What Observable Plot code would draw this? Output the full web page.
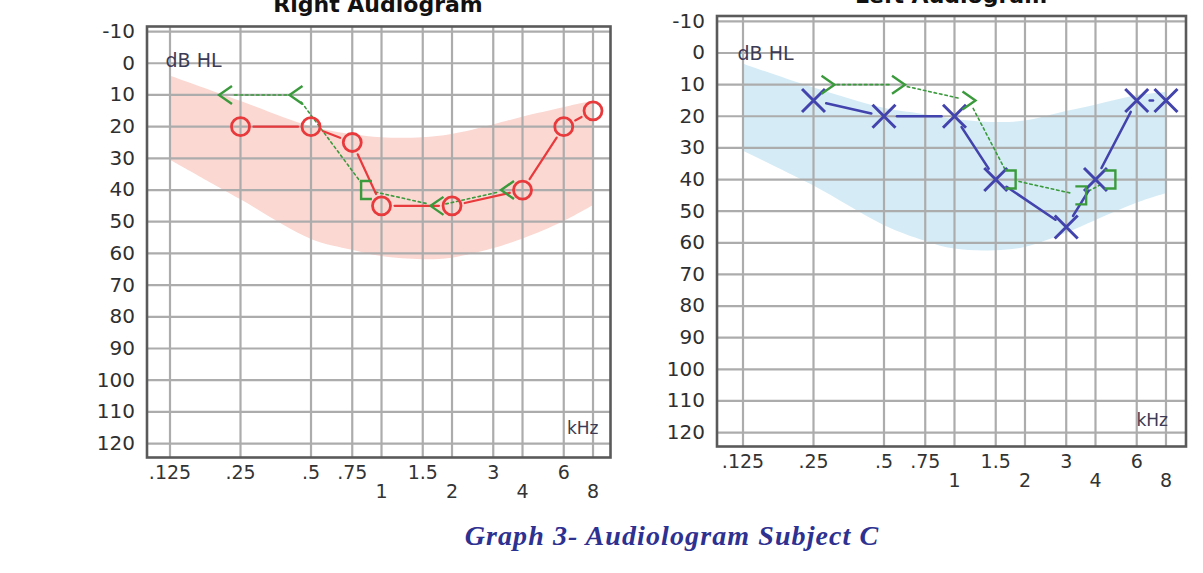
<!DOCTYPE html>
<html>
<head>
<meta charset="utf-8">
<script src="https://cdn.jsdelivr.net/npm/d3@7"></script>
<script src="https://cdn.jsdelivr.net/npm/@observablehq/plot@0.6"></script>
<style>
  html, body { margin: 0; padding: 0; background: #fff; }
  #page { position: relative; width: 1203px; height: 573px; overflow: hidden; background: #fff; }
  .plotbox { position: absolute; top: 0; }
  .title { position: absolute; font-family: "DejaVu Sans", sans-serif; font-weight: bold; font-size: 22px; line-height: 22px; color: #111; white-space: nowrap; transform: translateX(-50%); }
  #caption { position: absolute; left: 672px; top: 522px; transform: translateX(-50%); font-family: "Liberation Serif", "Times New Roman", serif; font-weight: bold; font-style: italic; font-size: 28px; line-height: 28px; letter-spacing: 1.1px; color: #2e3190; white-space: nowrap; }
</style>
</head>
<body>
<div id="page">
  <div class="title" style="left:378px; top:-6px;">Right Audiogram</div>
  <div class="title" style="left:951px; top:-15px;">Left Audiogram</div>
  <div id="leftBox" class="plotbox" style="left:0px;"></div>
  <div id="rightBox" class="plotbox" style="left:620px;"></div>
  <div id="caption">Graph 3- Audiologram Subject C</div>
</div>
<script>
// ---- shared axes ----
const freqs = [0.125, 0.25, 0.5, 0.75, 1, 1.5, 2, 3, 4, 6, 8];
const freqLabels = [".125", ".25", ".5", ".75", "1", "1.5", "2", "3", "4", "6", "8"];
const freqLabelRow = [1, 1, 1, 1, 2, 1, 2, 1, 2, 1, 2];
const dbTicks = [-10, 0, 10, 20, 30, 40, 50, 60, 70, 80, 90, 100, 110, 120];

// ---- Right ear (left chart) ----
const rightBandTop = [4, 12, 20, 22.5, 23.5, 23.5, 22.5, 19.5, 17, 14, 12];
const rightBandBottom = [30.5, 43, 55.5, 59, 61, 62, 61.5, 58.5, 55.5, 50, 45];
const rightAirFreq = [0.25, 0.5, 0.75, 1, 2, 4, 6, 8];
const rightAirDb = [20, 20, 25, 45, 45, 40, 20, 15];
const rightBoneFreq = [0.25, 0.5, 1, 2, 4];
const rightBoneDb = [10, 10, 40, 45, 40];
const rightBoneSym = ["<", "<", "[", "<", "<"];

// ---- Left ear (right chart) ----
const leftBandTop = [3.5, 11, 17.5, 19.5, 21, 22, 21.5, 18.5, 16.5, 13.5, 12.5];
const leftBandBottom = [31, 42, 54.5, 59.5, 62, 62.5, 61.5, 57, 53, 47.5, 44.5];
const leftAirFreq = [0.25, 0.5, 1, 1.5, 3, 4, 6, 8];
const leftAirDb = [15, 20, 20, 40, 55, 40, 15, 15];
const leftBoneFreq = [0.25, 0.5, 1, 1.5, 3, 4];
const leftBoneDb = [10, 10, 15, 40, 45, 40];
const leftBoneSym = [">", ">", ">", "]", "]", "]"];

// custom audiogram bone-conduction symbols
function boneSymbol(kind) {
  return {
    draw(ctx, size) {
      const r = Math.sqrt(size / Math.PI);
      const h = r;
      const w = (kind === "<" || kind === ">") ? r * 0.72 : r * 0.6;
      if (kind === "<") { ctx.moveTo(w, -h); ctx.lineTo(-w, 0); ctx.lineTo(w, h); }
      else if (kind === ">") { ctx.moveTo(-w, -h); ctx.lineTo(w, 0); ctx.lineTo(-w, h); }
      else if (kind === "[") { ctx.moveTo(w, -h); ctx.lineTo(-w, -h); ctx.lineTo(-w, h); ctx.lineTo(w, h); }
      else { ctx.moveTo(-w, -h); ctx.lineTo(w, -h); ctx.lineTo(w, h); ctx.lineTo(-w, h); }
    }
  };
}

function audiogram(cfg) {
  const band = freqs.map((f, i) => ({f, hi: cfg.bandTop[i], lo: cfg.bandBottom[i]}));
  const xlab = freqs.map((f, i) => ({f, label: freqLabels[i], row: freqLabelRow[i]}));
  const air = cfg.airFreq.map((f, i) => ({f, db: cfg.airDb[i]}));
  const bone = cfg.boneFreq.map((f, i) => ({f, db: cfg.boneDb[i], sym: cfg.boneSym[i]}));
  const airPairs = d3.pairs(air);
  const bonePairs = d3.pairs(bone);
  const green = "#3a9a3c";
  const symKinds = Array.from(new Set(cfg.boneSym));
  return Plot.plot({
    width: cfg.width,
    height: cfg.height,
    marginLeft: cfg.ml, marginRight: cfg.mr, marginTop: cfg.mt, marginBottom: cfg.mb,
    style: {fontFamily: "DejaVu Sans, sans-serif", fontSize: "20px", background: "transparent", overflow: "visible"},
    x: {type: "log", domain: cfg.xDomain, axis: null},
    y: {domain: cfg.yDomain, reverse: true},
    marks: [
      Plot.areaY(band, {x: "f", y1: "hi", y2: "lo", fill: cfg.bandColor, curve: "catmull-rom"}),
      Plot.ruleX(freqs, {stroke: "#acacac", strokeWidth: 2.2}),
      Plot.ruleY(dbTicks, {stroke: "#acacac", strokeWidth: 2.2}),
      Plot.frame({stroke: "#5a5a5a", strokeWidth: 2.6}),
      Plot.axisY(dbTicks, {tickSize: 0, tickPadding: 12, fontSize: 20, fill: "#2f2f2f", label: null, tickFormat: d => String(d)}),
      Plot.text(xlab.filter(d => d.row === 1), {x: "f", text: "label", frameAnchor: "bottom", dy: 21.5, fontSize: 19, fill: "#333"}),
      Plot.text(xlab.filter(d => d.row === 2), {x: "f", text: "label", frameAnchor: "bottom", dy: 40.5, fontSize: 19, fill: "#333"}),
      Plot.text(["dB HL"], {text: d => d, frameAnchor: "top-left", textAnchor: "start", dx: cfg.dbdx, dy: cfg.dbdy, fontSize: 19, fill: "#3b3b55"}),
      Plot.text(["kHz"], {text: d => d, frameAnchor: "bottom-right", textAnchor: "end", dx: cfg.khzdx, dy: cfg.khzdy, fontSize: 17, fill: "#3b3b55"}),
      Plot.arrow(bonePairs, {x1: d => d[0].f, y1: d => d[0].db, x2: d => d[1].f, y2: d => d[1].db, dx: cfg.boneDx, headLength: 0, inset: 9, stroke: green, strokeWidth: 1.6, strokeDasharray: "2.5 3"}),
      Plot.arrow(airPairs, {x1: d => d[0].f, y1: d => d[0].db, x2: d => d[1].f, y2: d => d[1].db, headLength: 0, inset: 13, stroke: cfg.airColor, strokeWidth: cfg.airLineWidth}),
      cfg.airSymbol === "circle"
        ? Plot.dot(air, {x: "f", y: "db", r: 9, stroke: cfg.airColor, strokeWidth: 2.8, fill: "none"})
        : Plot.dot(air, {x: "f", y: "db", r: 10.5, symbol: "times", stroke: cfg.airColor, strokeWidth: 3, fill: "none"}),
      ...symKinds.map(k => Plot.dot(bone.filter(d => d.sym === k), {x: "f", y: "db", dx: cfg.boneDx, r: 9, symbol: boneSymbol(k), stroke: green, strokeWidth: 2.4, fill: "none"}))
    ]
  });
}

const leftChart = audiogram({
  width: 620, height: 510, ml: 146.5, mr: 10, mt: 26, mb: 53,
  xDomain: [0.0997, 9.50], yDomain: [-11.6, 124.4],
  bandTop: rightBandTop, bandBottom: rightBandBottom, bandColor: "#fbd8d2",
  airFreq: rightAirFreq, airDb: rightAirDb, airColor: "#e8393c", airSymbol: "circle", airLineWidth: 2.2,
  boneFreq: rightBoneFreq, boneDb: rightBoneDb, boneSym: rightBoneSym, boneDx: -15,
  dbdx: 18.5, dbdy: 27, khzdx: -12, khzdy: -24
});
document.getElementById("leftBox").appendChild(leftChart);

const rightChart = audiogram({
  width: 583, height: 500, ml: 96.5, mr: 17.5, mt: 15.5, mb: 54,
  xDomain: [0.0968, 9.74], yDomain: [-11.7, 124.4],
  bandTop: leftBandTop, bandBottom: leftBandBottom, bandColor: "#d5ecf6",
  airFreq: leftAirFreq, airDb: leftAirDb, airColor: "#4343ad", airSymbol: "times", airLineWidth: 2.6,
  boneFreq: leftBoneFreq, boneDb: leftBoneDb, boneSym: leftBoneSym, boneDx: 14.5,
  dbdx: 20.5, dbdy: 30, khzdx: -18, khzdy: -21
});
document.getElementById("rightBox").appendChild(rightChart);
</script>
</body>
</html>
